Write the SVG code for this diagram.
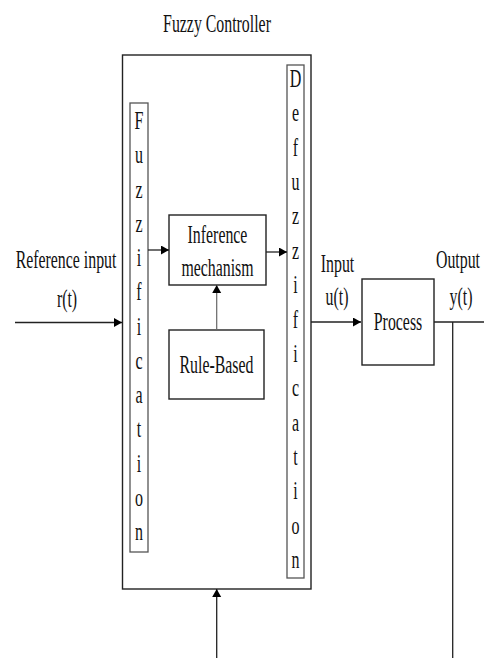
<svg xmlns="http://www.w3.org/2000/svg" width="484" height="659" viewBox="0 0 484 659">
<style>
text{font-family:"Liberation Serif","Times New Roman",serif;font-size:26px;fill:#111;text-anchor:middle}
.lt{font-size:25px}
.box{fill:none;stroke:#222;stroke-width:1.4}
.sbox{fill:none;stroke:#555;stroke-width:1.3}
.ln{fill:none;stroke:#222;stroke-width:1.3}
.gl{fill:none;stroke:#666;stroke-width:1.2}
</style>
<defs>
<marker id="ah" markerUnits="userSpaceOnUse" markerWidth="9" markerHeight="10" refX="8" refY="4.5" orient="auto">
<path d="M0,0 L8,4.5 L0,9 z" fill="#000"/>
</marker>
</defs>
<rect width="484" height="659" fill="#fff"/>

<g id="title"><text transform="translate(217,32) scale(0.61,1)">Fuzzy Controller</text></g>

<g id="controller"><rect class="box" x="122.5" y="55" width="188.5" height="534"/></g>

<g id="fuzzification">
<rect class="sbox" x="130" y="103" width="18" height="449"/>
<text class="lt" transform="translate(139,129) scale(0.64,1)">F</text>
<text class="lt" transform="translate(139,163.3) scale(0.64,1)">u</text>
<text class="lt" transform="translate(139,197.5) scale(0.64,1)">z</text>
<text class="lt" transform="translate(139,231.8) scale(0.64,1)">z</text>
<text class="lt" transform="translate(139,266) scale(0.64,1)">i</text>
<text class="lt" transform="translate(139,300.3) scale(0.64,1)">f</text>
<text class="lt" transform="translate(139,334.5) scale(0.64,1)">i</text>
<text class="lt" transform="translate(139,368.8) scale(0.64,1)">c</text>
<text class="lt" transform="translate(139,403) scale(0.64,1)">a</text>
<text class="lt" transform="translate(139,437.3) scale(0.64,1)">t</text>
<text class="lt" transform="translate(139,471.5) scale(0.64,1)">i</text>
<text class="lt" transform="translate(139,505.8) scale(0.64,1)">o</text>
<text class="lt" transform="translate(139,540) scale(0.64,1)">n</text>
</g>

<g id="defuzzification">
<rect class="sbox" x="287" y="65" width="17" height="513"/>
<text class="lt" transform="translate(295.5,87) scale(0.64,1)">D</text>
<text class="lt" transform="translate(295.5,121.4) scale(0.64,1)">e</text>
<text class="lt" transform="translate(295.5,155.7) scale(0.64,1)">f</text>
<text class="lt" transform="translate(295.5,190.1) scale(0.64,1)">u</text>
<text class="lt" transform="translate(295.5,224.4) scale(0.64,1)">z</text>
<text class="lt" transform="translate(295.5,258.8) scale(0.64,1)">z</text>
<text class="lt" transform="translate(295.5,293.1) scale(0.64,1)">i</text>
<text class="lt" transform="translate(295.5,327.5) scale(0.64,1)">f</text>
<text class="lt" transform="translate(295.5,361.9) scale(0.64,1)">i</text>
<text class="lt" transform="translate(295.5,396.2) scale(0.64,1)">c</text>
<text class="lt" transform="translate(295.5,430.6) scale(0.64,1)">a</text>
<text class="lt" transform="translate(295.5,464.9) scale(0.64,1)">t</text>
<text class="lt" transform="translate(295.5,499.3) scale(0.64,1)">i</text>
<text class="lt" transform="translate(295.5,533.6) scale(0.64,1)">o</text>
<text class="lt" transform="translate(295.5,568) scale(0.64,1)">n</text>
</g>

<g id="inference">
<rect class="box" x="169" y="215" width="97" height="70"/>
<text transform="translate(217.5,243) scale(0.61,1)">Inference</text>
<text transform="translate(217.5,276) scale(0.61,1)">mechanism</text>
</g>

<g id="rulebase">
<rect class="box" x="169" y="330" width="95" height="69"/>
<text transform="translate(216.5,373) scale(0.61,1)">Rule-Based</text>
</g>

<g id="process">
<rect class="box" x="362" y="279" width="72" height="86"/>
<text transform="translate(398,330) scale(0.61,1)">Process</text>
</g>

<g id="labels">
<text transform="translate(66,268) scale(0.61,1)">Reference input</text>
<text transform="translate(67,307) scale(0.61,1)">r(t)</text>
<text transform="translate(337.5,272) scale(0.61,1)">Input</text>
<text transform="translate(337,305) scale(0.61,1)">u(t)</text>
<text transform="translate(458,268) scale(0.61,1)">Output</text>
<text transform="translate(461,305) scale(0.61,1)">y(t)</text>
</g>

<g id="connectors">
<line class="ln" x1="15" y1="322.5" x2="122" y2="322.5" marker-end="url(#ah)"/>
<line class="ln" x1="148" y1="250" x2="169" y2="250" marker-end="url(#ah)"/>
<line class="ln" x1="266" y1="252" x2="287" y2="252" marker-end="url(#ah)"/>
<line class="gl" x1="216.7" y1="330" x2="216.7" y2="285" marker-end="url(#ah)"/>
<line class="ln" x1="311" y1="322" x2="361" y2="322" marker-end="url(#ah)"/>
<line class="ln" x1="434" y1="322" x2="484" y2="322"/>
<line class="ln" x1="452.7" y1="322" x2="452.7" y2="658"/>
<line class="ln" x1="216.7" y1="658" x2="216.7" y2="589" marker-end="url(#ah)"/>
</g>
</svg>
